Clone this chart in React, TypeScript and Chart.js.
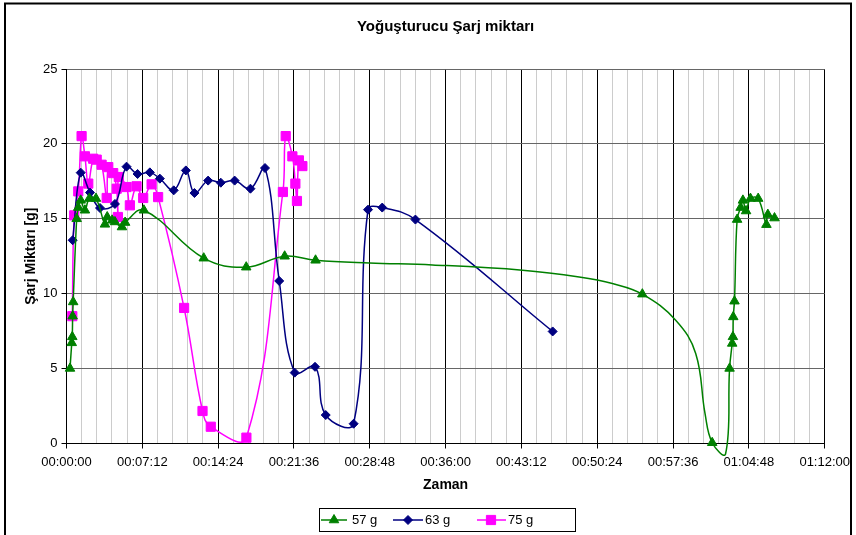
import React, { useEffect, useRef } from "react";
import { Chart, registerables } from "chart.js";

Chart.register(...registerables);

const chartTitle = "Yoğuşturucu Şarj miktarı";
const xAxisTitle = "Zaman";
const yAxisTitle = "Şarj Miktarı [g]";
const seriesNames = ["57 g", "63 g", "75 g"];
const xTickLabels = [
  "00:00:00", "00:07:12", "00:14:24", "00:21:36", "00:28:48", "00:36:00",
  "00:43:12", "00:50:24", "00:57:36", "01:04:48", "01:12:00",
];
const yTickValues = [0, 5, 10, 15, 20, 25];

// time in seconds, charge in g
const g57Time = [20, 30, 33, 35, 38, 58, 67, 81, 105, 130, 168, 219, 232, 260, 276, 316, 334, 441, 782, 1024, 1243, 1419, 3281, 3679, 3778, 3793, 3797, 3799, 3806, 3821, 3841, 3854, 3872, 3897, 3941, 3988, 3996, 4034];
const g57Value = [5.01, 6.72, 7.12, 8.5, 9.45, 15.0, 15.75, 16.23, 15.57, 16.35, 16.35, 14.63, 15.12, 14.9, 14.79, 14.45, 14.75, 15.57, 12.37, 11.77, 12.5, 12.23, 9.97, 0.05, 5.01, 6.68, 7.12, 8.45, 9.5, 14.95, 15.75, 16.23, 15.52, 16.35, 16.35, 14.61, 15.28, 15.05];
// unmarked readings along the 57 g trend line
const g57TraceTime = [1726, 2085, 2598, 2921, 3110, 3471, 3585, 3638, 3755];
const g57TraceValue = [12.05, 11.92, 11.57, 11.12, 10.68, 8.23, 6.01, 2.01, -0.7];

const b63Time = [35, 81, 134, 191, 276, 342, 405, 475, 532, 611, 680, 729, 807, 879, 958, 1048, 1131, 1212, 1300, 1416, 1477, 1636, 1718, 1799, 1988, 2770];
const b63Value = [13.57, 18.08, 16.75, 15.72, 15.99, 18.48, 17.99, 18.1, 17.68, 16.9, 18.23, 16.72, 17.55, 17.41, 17.55, 17.01, 18.39, 10.85, 4.73, 5.12, 1.9, 1.32, 15.61, 15.75, 14.95, 7.48];

const m75Time = [33, 44, 67, 86, 105, 124, 152, 172, 200, 229, 238, 266, 286, 293, 298, 342, 361, 399, 437, 485, 522, 670, 775, 822, 1025, 1233, 1249, 1287, 1304, 1313, 1324, 1344];
const m75Value = [8.5, 15.23, 16.83, 20.52, 19.17, 17.35, 19.01, 18.95, 18.61, 16.39, 18.45, 18.05, 17.01, 15.12, 17.79, 17.12, 15.9, 17.17, 16.39, 17.3, 16.45, 9.05, 2.17, 1.12, 0.39, 16.79, 20.52, 19.17, 17.35, 16.19, 18.9, 18.52];

const FONT = "'Liberation Sans', Arial, sans-serif";
const COLORS = ["#008000", "#000080", "#FF00FF"];
const STYLES = ["triangle", "rectRot", "rect"];
const RADII = [5.5, 4.5, 6.5];

const X_MAX = 4320;
const X_STEP = 432;

function drawMarker(ctx: CanvasRenderingContext2D, style: string, x: number, y: number, r: number, color: string) {
  ctx.save();
  ctx.fillStyle = color;
  ctx.strokeStyle = color;
  ctx.lineWidth = 1;
  ctx.beginPath();
  if (style === "triangle") {
    ctx.moveTo(x, y - r);
    ctx.lineTo(x + r * 0.866, y + r * 0.5);
    ctx.lineTo(x - r * 0.866, y + r * 0.5);
  } else if (style === "rectRot") {
    ctx.moveTo(x, y - r);
    ctx.lineTo(x + r, y);
    ctx.lineTo(x, y + r);
    ctx.lineTo(x - r, y);
  } else {
    const s = r * Math.SQRT1_2;
    ctx.rect(x - s, y - s, 2 * s, 2 * s);
  }
  ctx.closePath();
  ctx.fill();
  ctx.stroke();
  ctx.restore();
}

const decorPlugin = {
  id: "decor",
  beforeDraw(chart: any) {
    const ctx = chart.ctx;
    ctx.save();
    ctx.fillStyle = "#ffffff";
    ctx.fillRect(0, 0, chart.width, chart.height);
    ctx.restore();
  },
  afterDraw(chart: any) {
    const ctx: CanvasRenderingContext2D = chart.ctx;
    const area = chart.chartArea;
    const cx = (area.left + area.right) / 2;
    ctx.save();
    ctx.fillStyle = "#000";
    ctx.textAlign = "center";
    ctx.textBaseline = "middle";
    ctx.font = `bold 15px ${FONT}`;
    ctx.fillText(chartTitle, cx, 27);
    ctx.font = `bold 14px ${FONT}`;
    ctx.fillText(xAxisTitle, cx, 485);
    ctx.save();
    ctx.translate(31, (area.top + area.bottom) / 2);
    ctx.rotate(-Math.PI / 2);
    ctx.fillText(yAxisTitle, 0, 0);
    ctx.restore();

    // legend
    ctx.lineWidth = 1;
    ctx.strokeStyle = "#000";
    ctx.strokeRect(319.5, 508.5, 256, 23);
    const items = [
      { x0: 321, x1: 347, mx: 334, tx: 352 },
      { x0: 393, x1: 423, mx: 408, tx: 425 },
      { x0: 477, x1: 506, mx: 491, tx: 508 },
    ];
    const ly = 520;
    chart.data.datasets.forEach((ds: any, i: number) => {
      const it = items[i];
      ctx.strokeStyle = COLORS[i];
      ctx.lineWidth = 1.5;
      ctx.beginPath();
      ctx.moveTo(it.x0, ly);
      ctx.lineTo(it.x1, ly);
      ctx.stroke();
      drawMarker(ctx, STYLES[i], it.mx, ly, RADII[i], COLORS[i]);
      ctx.fillStyle = "#000";
      ctx.textAlign = "left";
      ctx.font = `13px ${FONT}`;
      ctx.fillText(ds.label, it.tx, ly);
    });

    // outer frame
    ctx.strokeStyle = "#000";
    ctx.lineWidth = 2;
    ctx.strokeRect(5, 3.5, 846, 560);
    ctx.restore();
  },
};

export default function App() {
  const ref = useRef<HTMLCanvasElement | null>(null);

  useEffect(() => {
    if (!ref.current) return;
    const pts = (t: number[], v: number[]) => t.map((x, i) => ({ x, y: v[i], marker: true }));
    const g57 = [
      ...pts(g57Time, g57Value),
      ...g57TraceTime.map((x, i) => ({ x, y: g57TraceValue[i], marker: false })),
    ].sort((a, b) => a.x - b.x);
    const series = [g57, pts(b63Time, b63Value), pts(m75Time, m75Value)];

    const chart = new Chart(ref.current, {
      type: "scatter",
      data: {
        datasets: series.map((data, i) => ({
          label: seriesNames[i],
          data,
          showLine: true,
          borderColor: COLORS[i],
          backgroundColor: COLORS[i],
          pointBackgroundColor: COLORS[i],
          pointBorderColor: COLORS[i],
          borderWidth: 1.5,
          pointBorderWidth: 1,
          pointStyle: STYLES[i] as any,
          pointRadius: (c: any) => (c.raw && c.raw.marker === false ? 0 : RADII[i]),
          pointHoverRadius: (c: any) => (c.raw && c.raw.marker === false ? 0 : RADII[i]),
          tension: 0.4,
          clip: false as any,
        })),
      },
      options: {
        animation: false,
        responsive: false,
        events: [],
        layout: { padding: { left: 0, top: 69, right: 30, bottom: 0 } },
        elements: { line: { capBezierPoints: false } },
        plugins: { legend: { display: false }, title: { display: false }, tooltip: { enabled: false } },
        scales: {
          x: {
            type: "linear",
            min: 0,
            max: X_MAX,
            afterFit: (s: any) => { s.height = 91.5; },
            afterBuildTicks: (s: any) => {
              const n = (X_MAX / X_STEP) * 5;
              s.ticks = Array.from({ length: n + 1 }, (_, i) => ({ value: (i * X_STEP) / 5 }));
            },
            grid: {
              color: (c: any) => (c.index % 5 === 0 ? "#000000" : "#cccccc"),
              lineWidth: 1,
              tickLength: 5,
              tickColor: (c: any) => (c.index % 5 === 0 ? "#000000" : "rgba(0,0,0,0)"),
              tickWidth: (c: any) => (c.index % 5 === 0 ? 1 : 0),
            },
            border: { color: "#000", width: 1 },
            ticks: {
              autoSkip: false,
              maxRotation: 0,
              minRotation: 0,
              padding: 6,
              color: "#000",
              font: { family: FONT, size: 13 },
              callback: (_v: any, i: number) => (i % 5 === 0 ? xTickLabels[i / 5] : ""),
            },
          },
          y: {
            type: "linear",
            min: yTickValues[0],
            max: yTickValues[yTickValues.length - 1],
            afterFit: (s: any) => { s.width = 66.5; },
            afterBuildTicks: (s: any) => { s.ticks = yTickValues.map((value) => ({ value })); },
            grid: { color: "#666666", lineWidth: 1, tickLength: 5, tickColor: "#000" },
            border: { color: "#000", width: 1 },
            ticks: {
              padding: 4,
              color: "#000",
              font: { family: FONT, size: 13 },
              callback: (v: any) => String(v),
            },
          },
        },
      },
      plugins: [decorPlugin],
    });
    return () => chart.destroy();
  }, []);

  return (
    <div style={{ position: "absolute", left: 0, top: 0, width: 856, height: 535, overflow: "hidden" }}>
      <canvas ref={ref} width={856} height={535} style={{ width: 856, height: 535, display: "block" }} />
    </div>
  );
}
